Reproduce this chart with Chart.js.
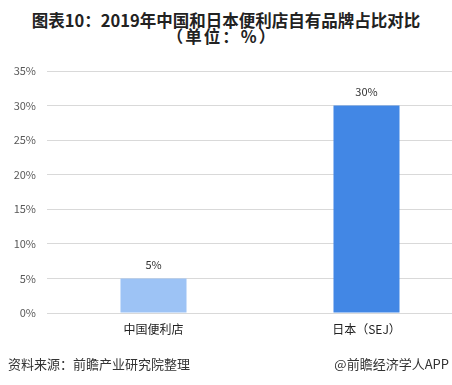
<!DOCTYPE html>
<html>
<head>
<meta charset="utf-8">
<script src="https://cdn.jsdelivr.net/npm/chart.js@4"></script>
<style>
  html, body { margin: 0; padding: 0; background: #fff; width: 452px; height: 385px; overflow: hidden; }
  body { position: relative; font-family: "Noto Sans CJK SC", sans-serif; }
  .title { position: absolute; left: 0; width: 452px; text-align: center; color: #222; font-weight: bold; font-size: 16.5px; white-space: nowrap; }
  #t1 { top: 9px; line-height: 22px; }
  #t2 { top: 25px; line-height: 22px; letter-spacing: 2px; left: -4px; }
  .foot { position: absolute; top: 354px; font-size: 13px; line-height: 20px; color: #333; white-space: nowrap; }
  #src { left: 8px; }
  #brand { right: 3px; }
  #wrap { position: absolute; left: 0; top: 0; width: 473px; height: 385px; }
</style>
</head>
<body>
<div class="title" id="t1">图表10：2019年中国和日本便利店自有品牌占比对比</div>
<div class="title" id="t2">（单位：%）</div>
<div id="wrap"><canvas id="chart"></canvas></div>
<div class="foot" id="src">资料来源：前瞻产业研究院整理</div>
<div class="foot" id="brand">@前瞻经济学人APP</div>
<script>
// 2019 private-label share, China vs Japan convenience stores
const categories = ['中国便利店', '日本（SEJ）'];
const shareValues = [5, 30];
const barColors = ['#9DC3F5', '#4287E5'];
const yTicks = [0, 5, 10, 15, 20, 25, 30, 35];

// value labels above each bar
const valueLabels = {
  id: 'valueLabels',
  afterDatasetsDraw(chart) {
    const { ctx } = chart;
    const meta = chart.getDatasetMeta(0);
    ctx.save();
    ctx.font = '11px "Noto Sans CJK SC", sans-serif';
    ctx.fillStyle = '#333';
    ctx.textAlign = 'center';
    ctx.textBaseline = 'middle';
    meta.data.forEach((bar, i) => {
      ctx.fillText(shareValues[i] + '%', bar.x, bar.y - 14);
    });
    ctx.restore();
  }
};

const ctx = document.getElementById('chart');
new Chart(ctx, {
  type: 'bar',
  data: {
    labels: categories,
    datasets: [{
      data: shareValues,
      backgroundColor: barColors,
      borderWidth: 0,
      categoryPercentage: 1,
      barPercentage: 0.31
    }]
  },
  options: {
    responsive: true,
    maintainAspectRatio: false,
    animation: false,
    layout: { padding: { top: 71, right: 0, bottom: 0, left: 0 } },
    plugins: {
      legend: { display: false },
      tooltip: { enabled: false }
    },
    scales: {
      x: {
        afterFit: s => { s.height = 72; },
        grid: { display: false, drawTicks: false },
        border: { display: true, color: '#d9d9d9', width: 1 },
        ticks: {
          padding: 9,
          color: '#222',
          font: { size: 12, family: '"Noto Sans CJK SC", sans-serif' }
        }
      },
      y: {
        min: 0,
        max: 35,
        afterFit: s => { s.width = 47; },
        afterBuildTicks: s => { s.ticks = yTicks.map(v => ({ value: v })); },
        grid: { color: '#d9d9d9', lineWidth: 1, drawTicks: false },
        border: { display: false },
        ticks: {
          padding: 11,
          color: '#595959',
          font: { size: 11, family: '"Noto Sans CJK SC", sans-serif' },
          callback: v => v + '%'
        }
      }
    }
  },
  plugins: [valueLabels]
});
</script>
</body>
</html>
